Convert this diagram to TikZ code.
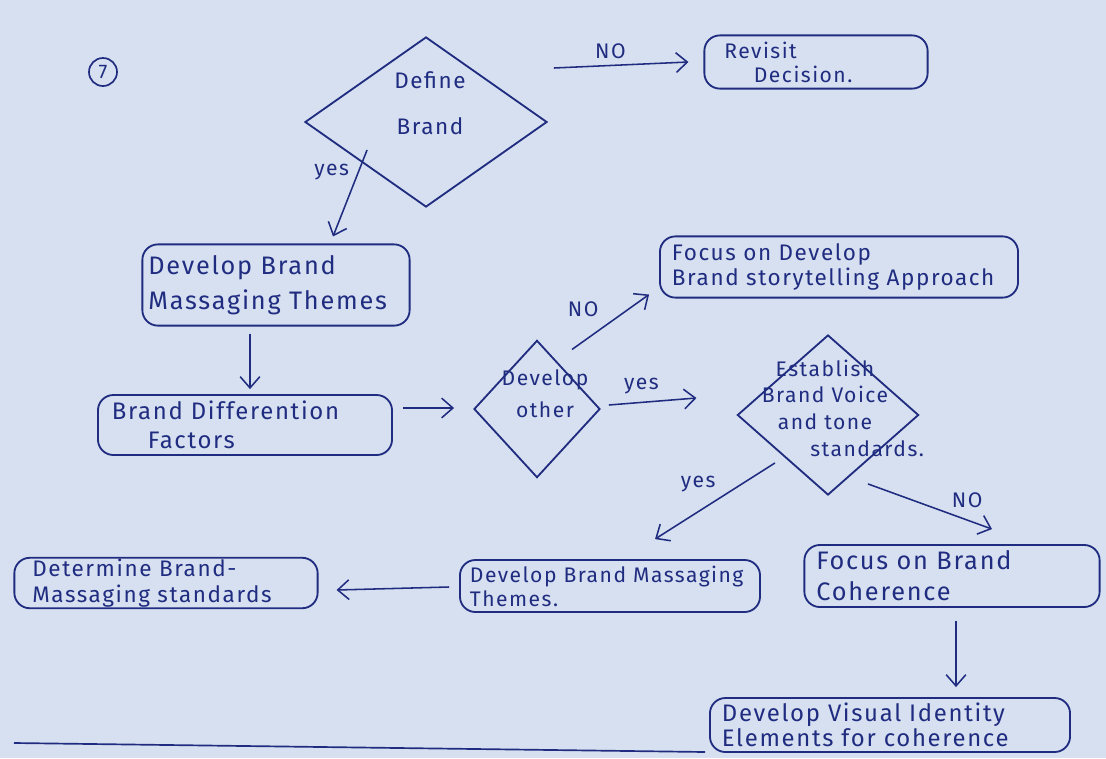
\documentclass[tikz,border=0pt]{standalone}
\usepackage{fontspec}
\setmainfont[LetterSpace=7]{Fira Sans}
\usepackage{xcolor}
\usepackage{tikz}
\usetikzlibrary{shapes.geometric, arrows.meta, calc}
\definecolor{ink}{RGB}{32,44,128}
\definecolor{paper}{RGB}{214,224,241}

\begin{document}
\begin{tikzpicture}[
    x=0.025cm, y=-0.025cm,
    box/.style={rectangle, draw=ink, line width=1.3pt, rounded corners=11pt, align=left, text=ink, inner xsep=0.3cm, inner ysep=1pt, font=\fontsize{15}{17}\selectfont},
    decision/.style={diamond, draw=ink, line width=1.3pt, inner sep=0pt},
    dtext/.style={text=ink, align=center, font=\fontsize{15}{19}\selectfont},
    arrow/.style={-{Straight Barb[length=8pt, width=14pt]}, line width=1.1pt, draw=ink},
    answer/.style={text=ink, font=\fontsize{15}{17}\selectfont}
]

% Paper
\fill[paper] (0,0) rectangle (1106,758);

% Page number
\node[circle, draw=ink, line width=1.2pt, minimum size=0.7cm, inner sep=0pt, text=ink, font=\fontsize{14}{14}\selectfont] (num) at (103,72) {7};

% Decision nodes
\node[decision, minimum width=6.05cm, minimum height=4.25cm] (define) at (426,122) {};
\node[dtext, font=\fontsize{16}{33}\selectfont] (definetext) at (430,103) {Define\\Brand};

\node[decision, minimum width=3.15cm, minimum height=3.43cm] (other) at (537,409) {};
\node[dtext, font=\fontsize{15}{23}\selectfont] (othertext) at (545,394) {Develop\\other};

\node[decision, minimum width=4.53cm, minimum height=4cm] (voice) at (828,415) {};
\node[dtext] (voicetext) at (825,408) {Establish\\Brand Voice\\and tone\\\hspace*{4em}standards.};

% Process boxes
\node[box, text width=4.58cm, minimum height=1.33cm, inner xsep=0.5cm] (revisit) at (816,62) {Revisit\\\hspace*{1.4em}Decision.};
\node[box, text width=6.38cm, minimum height=2.03cm, inner xsep=0.15cm, font=\fontsize{18}{25}\selectfont] (themes) at (276,285) {Develop Brand\\Massaging Themes};
\node[box, text width=6.65cm, minimum height=1.5cm, inner xsep=0.35cm, font=\fontsize{17}{21}\selectfont] (diff) at (245,425) {Brand Differention\\\hspace*{1.5em}Factors};
\node[box, text width=8.35cm, minimum height=1.53cm, font=\fontsize{16}{18}\selectfont] (focus) at (839,267) {Focus on Develop\\Brand storytelling Approach};
\node[box, text width=7.0cm, minimum height=1.3cm, inner xsep=0.25cm] (brandmsg) at (610,586) {Develop Brand Massaging\\Themes.};
\node[box, text width=6.68cm, minimum height=1.25cm, inner xsep=0.45cm, font=\fontsize{16}{18}\selectfont] (standards) at (166,583) {Determine Brand-\\Massaging standards};
\node[box, text width=6.78cm, minimum height=1.55cm, font=\fontsize{18}{22}\selectfont] (coherence) at (952,576) {Focus on Brand\\Coherence};
\node[box, text width=8.4cm, minimum height=1.35cm, font=\fontsize{17}{18}\selectfont] (visual) at (890,725) {Develop Visual Identity\\Elements for coherence};

% Arrows - Define Brand
\draw[arrow] ($(define.east)+(6,-54)$) -- node[answer, above=1pt, pos=0.42] {NO} ($(revisit.west)+(-15,0)$);
\draw[arrow] ($(define.west)+(63,28)$) -- node[answer, left=3pt, pos=0.25] {yes} ($(themes.north)+(57,-7)$);

% Arrows - main flow
\draw[arrow] ($(themes.south)+(-26,7)$) -- ($(diff.north)+(5,-5)$);
\draw[arrow] ($(diff.east)+(10,-17)$) -- ($(other.west)+(-19,-1)$);

% Arrows - Develop other
\draw[arrow] ($(other.north)+(35,10)$) -- node[answer, above left=2pt, pos=0.45] {NO} ($(focus.south west)+(-10,-4)$);
\draw[arrow] ($(other.east)+(8,-4)$) -- node[answer, above=2pt, pos=0.37] {yes} ($(voice.west)+(-40,-17)$);

% Arrows - Brand voice
\draw[arrow] ($(voice.south)+(-53,-33)$) -- node[answer, above left=0pt, pos=0.45] {yes} ($(brandmsg.north)+(45,-20)$);
\draw[arrow] ($(voice.south)+(40,-12)$) -- node[answer, above=5pt, pos=0.8] {NO} ($(coherence.north)+(40,-15)$);

% Arrows - bottom row
\draw[arrow] ($(brandmsg.west)+(-10,1)$) -- ($(standards.east)+(18,7)$);
\draw[arrow] ($(coherence.south)+(4,13)$) -- ($(visual.north)+(66,-10)$);

% Page edge
\coordinate (edgeA) at (14,743);
\coordinate (edgeB) at (705,752);
\draw[ink, line width=1.2pt] (edgeA) -- (edgeB);

\end{tikzpicture}
\end{document}
